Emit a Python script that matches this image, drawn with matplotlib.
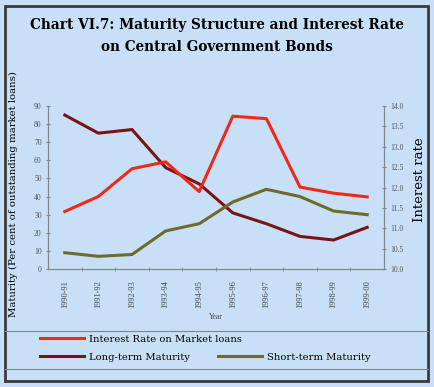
import matplotlib
matplotlib.use("Agg")
import matplotlib.pyplot as plt
from matplotlib.lines import Line2D
from matplotlib.patches import Rectangle

# ---- Data ----
YEARS = ["1990-91", "1991-92", "1992-93", "1993-94", "1994-95",
         "1995-96", "1996-97", "1997-98", "1998-99", "1999-00"]
INTEREST_RATE = [11.41, 11.78, 12.46, 12.63, 11.90, 13.75, 13.69, 12.01, 11.86, 11.77]
LONG_TERM = [85, 75, 77, 56, 47, 31, 25, 18, 16, 23]
SHORT_TERM = [9, 7, 8, 21, 25, 37, 44, 40, 32, 30]

# ---- Style ----
BG = "#c8e0f7"
RED = "#f0281c"
DARK_RED = "#7a1412"
OLIVE = "#6e6a2c"
AXIS_GREY = "#7d8790"
SERIF = ["Liberation Serif", "DejaVu Serif"]
WIDE_SERIF = ["DejaVu Serif"]

W, H = 434, 387


def main():
    fig = plt.figure(figsize=(W / 100, H / 100), dpi=100, facecolor=BG)

    # outer frame
    fig.patches.append(Rectangle((5 / W, 1 - 381 / H), 423 / W, 375 / H,
                                 transform=fig.transFigure, fill=False,
                                 edgecolor="#3a3a3a", linewidth=2))

    fig.text(0.5, 1 - 25 / H, "Chart VI.7: Maturity Structure and Interest Rate",
             ha="center", va="center", fontsize=9.8, fontweight="bold", family=WIDE_SERIF)
    fig.text(0.5, 1 - 47 / H, "on Central Government Bonds",
             ha="center", va="center", fontsize=9.8, fontweight="bold", family=WIDE_SERIF)

    ax = fig.add_axes([48 / W, 1 - 269 / H, 336 / W, 163 / H])
    ax.set_facecolor(BG)
    ax2 = ax.twinx()

    x = range(len(YEARS))
    l_long, = ax.plot(x, LONG_TERM, color=DARK_RED, lw=2.2)
    l_short, = ax.plot(x, SHORT_TERM, color=OLIVE, lw=2.2)
    l_rate, = ax2.plot(x, INTEREST_RATE, color=RED, lw=2.2)

    ax.set_xlim(-0.5, len(YEARS) - 0.5)
    ax.set_ylim(0, 90)
    ax.set_yticks(range(0, 91, 10))
    ax2.set_ylim(10.0, 14.0)
    ax2.set_yticks([10 + 0.5 * i for i in range(9)])
    ax2.set_yticklabels([f"{10 + 0.5 * i:.1f}" for i in range(9)])

    ax.set_xticks(x)
    ax.set_xticklabels(YEARS, rotation=90, fontsize=6, family=SERIF, color="#444444")
    ax.set_xticks([i + 0.5 for i in range(len(YEARS) - 1)], minor=True)
    ax.tick_params(axis="x", which="major", length=0, pad=8)
    ax.tick_params(axis="x", which="minor", length=3, direction="inout", color=AXIS_GREY)

    for a in (ax, ax2):
        a.spines["top"].set_visible(False)
        for side in ("left", "right", "bottom"):
            a.spines[side].set_color(AXIS_GREY)
            a.spines[side].set_linewidth(0.8)
        a.tick_params(axis="y", length=3, direction="inout", color=AXIS_GREY,
                      labelsize=5.5, labelcolor="#555555", pad=3)
        for lbl in a.get_yticklabels():
            lbl.set_family(SERIF)

    ax.set_xlabel("Year", fontsize=5.5, family=SERIF, color="#444444")
    ax.xaxis.set_label_coords(0.5, -0.27)
    ax.set_ylabel("Maturity (Per cent of outstanding market loans)", fontsize=7.3,
                  family=WIDE_SERIF)
    ax.yaxis.set_label_coords(-0.088, 0.46)
    ax2.set_ylabel("Interest rate", fontsize=9.5, family=WIDE_SERIF)
    ax2.yaxis.set_label_coords(1.085, 0.55)

    # legend: first row holds one entry, second row two
    prop = {"family": WIDE_SERIF, "size": 7.2}
    fig.legend([l_rate], ["Interest Rate on Market loans"],
               loc="center left", bbox_to_anchor=(31 / W, 1 - 339 / H),
               frameon=False, prop=prop, handlelength=4.4, handletextpad=0.5)
    fig.legend([l_long, l_short], ["Long-term Maturity", "Short-term Maturity"],
               ncol=2, loc="center left", bbox_to_anchor=(31 / W, 1 - 357 / H),
               frameon=False, prop=prop, handlelength=4.4, handletextpad=0.5,
               columnspacing=2.8)
    for yy in (331, 369):
        fig.add_artist(Line2D([5 / W, 428 / W], [1 - yy / H, 1 - yy / H],
                              transform=fig.transFigure, color=AXIS_GREY, lw=0.8))

    fig.savefig("out.png", dpi=100, facecolor=BG)


if __name__ == "__main__":
    main()
